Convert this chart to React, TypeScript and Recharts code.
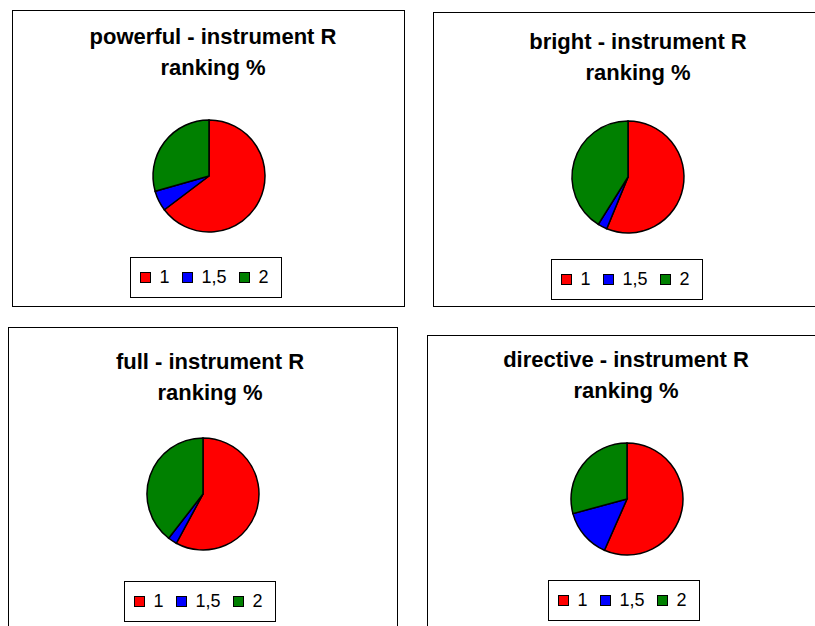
import React from "react";
import { Cell, Legend, Pie, PieChart } from "recharts";

const categories = ["1", "1,5", "2"];
const colors = ["#FF0000", "#0000FF", "#008000"];

const powerfulValues = [64.7, 5.9, 29.4];
const brightValues = [56.2, 2.7, 41.1];
const fullValues = [57.9, 2.6, 39.5];
const directiveValues = [56.6, 14.2, 29.2];

const titleLine2 = "ranking %";

interface PanelProps {
  title: string;
  values: number[];
  left: number;
  top: number;
  width: number;
  height: number;
  titleX: number;
  titleY: number;
  cx: number;
  cy: number;
  legendX: number;
  legendY: number;
}

function LegendBox({ payload }: any) {
  return (
    <div
      style={{
        display: "flex",
        alignItems: "center",
        border: "1.5px solid #000",
        background: "#fff",
        width: 152,
        height: 41,
        boxSizing: "border-box",
        paddingLeft: 8.5,
        fontFamily: "'Liberation Sans', Arial, sans-serif",
        fontSize: 18,
        color: "#000",
      }}
    >
      {(payload || []).map((entry: any, i: number) => (
        <div key={i} style={{ display: "flex", alignItems: "center", marginRight: 12 }}>
          <span
            style={{
              display: "inline-block",
              width: 11,
              height: 11,
              boxSizing: "border-box",
              background: entry.color,
              border: "1.5px solid #000",
              marginRight: 9,
            }}
          />
          <span>{entry.value}</span>
        </div>
      ))}
    </div>
  );
}

function Panel(p: PanelProps) {
  const data = categories.map((name, i) => ({ name, value: p.values[i] }));
  return (
    <div
      style={{
        position: "absolute",
        left: p.left,
        top: p.top,
        width: p.width,
        height: p.height,
        border: "1px solid #000",
        boxSizing: "border-box",
        background: "#fff",
      }}
    >
      <div
        style={{
          position: "absolute",
          left: p.titleX - 190,
          top: p.titleY,
          width: 380,
          textAlign: "center",
          fontFamily: "'Liberation Sans', Arial, sans-serif",
          fontWeight: "bold",
          fontSize: 22,
          lineHeight: "31px",
          color: "#000",
        }}
      >
        <div>{p.title}</div>
        <div>{titleLine2}</div>
      </div>
      <div style={{ position: "absolute", left: 0, top: 0 }}>
        <PieChart width={p.width - 2} height={p.height - 2} margin={{ top: 0, right: 0, bottom: 0, left: 0 }}>
          <Pie
            data={data}
            dataKey="value"
            nameKey="name"
            cx={p.cx}
            cy={p.cy}
            outerRadius={56}
            startAngle={90}
            endAngle={-270}
            stroke="#000"
            strokeWidth={1.5}
            isAnimationActive={false}
          >
            {data.map((d, i) => (
              <Cell key={d.name} fill={colors[i]} />
            ))}
          </Pie>
          <Legend
            content={<LegendBox />}
            wrapperStyle={{ left: p.legendX, top: p.legendY, width: "auto", bottom: "auto" }}
          />
        </PieChart>
      </div>
    </div>
  );
}

export default function App() {
  return (
    <div
      style={{
        position: "absolute",
        left: 0,
        top: 0,
        width: 815,
        height: 626,
        overflow: "hidden",
        background: "#fff",
      }}
    >
      <Panel
        title="powerful - instrument R"
        values={powerfulValues}
        left={12}
        top={10}
        width={393}
        height={297}
        titleX={200}
        titleY={10}
        cx={196}
        cy={165}
        legendX={117}
        legendY={246}
      />
      <Panel
        title="bright - instrument R"
        values={brightValues}
        left={433}
        top={12}
        width={395}
        height={295}
        titleX={204}
        titleY={13}
        cx={194}
        cy={164}
        legendX={117}
        legendY={246}
      />
      <Panel
        title="full - instrument R"
        values={fullValues}
        left={8}
        top={327}
        width={390}
        height={310}
        titleX={201}
        titleY={18}
        cx={194}
        cy={166}
        legendX={115}
        legendY={253}
      />
      <Panel
        title="directive - instrument R"
        values={directiveValues}
        left={427}
        top={335}
        width={395}
        height={300}
        titleX={198}
        titleY={8}
        cx={199}
        cy={163}
        legendX={120}
        legendY={244}
      />
    </div>
  );
}
